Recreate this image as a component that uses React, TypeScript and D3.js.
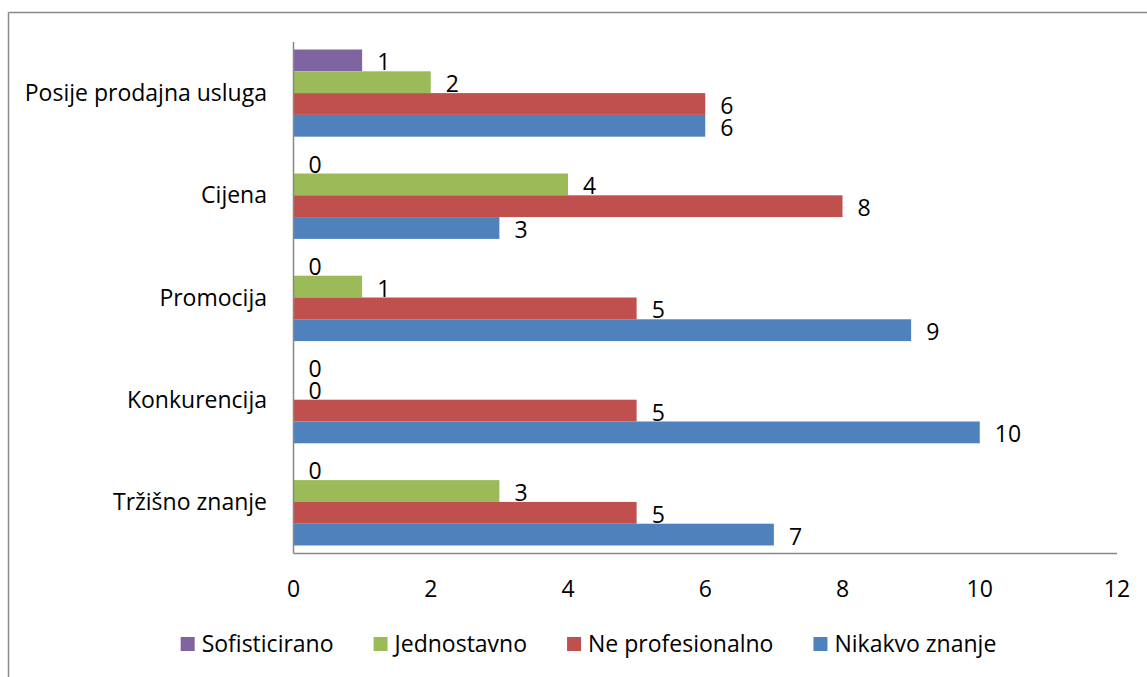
import React, { useEffect, useRef } from "react";
import * as d3 from "d3";

const categories = ["Posije prodajna usluga", "Cijena", "Promocija", "Konkurencija", "Tržišno znanje"];
const seriesNames = ["Sofisticirano", "Jednostavno", "Ne profesionalno", "Nikakvo znanje"];
const seriesColors = ["#8064A2", "#9BBB59", "#C0504D", "#4F81BD"];
const sofisticirano = [1, 0, 0, 0, 0];
const jednostavno = [2, 4, 1, 0, 3];
const neProfesionalno = [6, 8, 5, 5, 5];
const nikakvoZnanje = [6, 3, 9, 10, 7];
const xTicks = [0, 2, 4, 6, 8, 10, 12];

const W = 1147;
const H = 677;
const FONT = "'Open Sans', sans-serif";
const FS = 23;

export default function App() {
  const ref = useRef<SVGSVGElement | null>(null);

  useEffect(() => {
    const svg = d3.select(ref.current);
    svg.selectAll("*").remove();
    const seriesValues = [sofisticirano, jednostavno, neProfesionalno, nikakvoZnanje];

    const x = d3.scaleLinear().domain([0, 12]).range([293.5, 1117]);
    const y = d3
      .scaleBand<string>()
      .domain(categories)
      .range([42, 553])
      .paddingInner(0.147)
      .paddingOuter(0.0735);
    const ys = d3.scaleBand<string>().domain(seriesNames).range([0, y.bandwidth()]);

    // frame
    svg.append("line").attr("x1", 8.5).attr("x2", W).attr("y1", 12.5).attr("y2", 12.5)
      .attr("stroke", "#8a8a8a").attr("stroke-width", 1.5);
    svg.append("line").attr("x1", 8.5).attr("x2", 8.5).attr("y1", 12.5).attr("y2", H)
      .attr("stroke", "#8a8a8a").attr("stroke-width", 1.5);

    // bars
    const g = svg.append("g");
    categories.forEach((c, ci) => {
      seriesNames.forEach((s, si) => {
        const v = seriesValues[si][ci];
        const y0 = (y(c) as number) + (ys(s) as number);
        if (v > 0) {
          g.append("rect")
            .attr("x", x(0))
            .attr("y", y0)
            .attr("width", x(v) - x(0))
            .attr("height", ys.bandwidth())
            .attr("fill", seriesColors[si]);
        }
        g.append("text")
          .attr("x", x(v) + 15)
          .attr("y", y0 + ys.bandwidth() / 2 + 10)
          .attr("font-family", FONT)
          .attr("font-size", FS)
          .attr("fill", "#000")
          .text(String(v));
      });
    });

    // axes lines
    svg.append("line").attr("x1", x(0)).attr("x2", x(0)).attr("y1", 42).attr("y2", 553.5)
      .attr("stroke", "#878787").attr("stroke-width", 1.5);
    svg.append("line").attr("x1", x(0)).attr("x2", x(12)).attr("y1", 553.5).attr("y2", 553.5)
      .attr("stroke", "#878787").attr("stroke-width", 1.5);

    // x tick labels
    xTicks.forEach((t) => {
      svg.append("text")
        .attr("x", x(t))
        .attr("y", 597)
        .attr("text-anchor", "middle")
        .attr("font-family", FONT)
        .attr("font-size", FS)
        .text(String(t));
    });

    // category labels
    categories.forEach((c) => {
      svg.append("text")
        .attr("x", 267)
        .attr("y", (y(c) as number) + y.bandwidth() / 2 + 8)
        .attr("text-anchor", "end")
        .attr("font-family", FONT)
        .attr("font-size", FS)
        .text(c);
    });

    // legend
    const lg = svg.append("g");
    const items = seriesNames.map((s, i) => {
      const gi = lg.append("g");
      gi.append("rect").attr("x", 0).attr("y", 637).attr("width", 14).attr("height", 14)
        .attr("fill", seriesColors[i]);
      const t = gi.append("text").attr("x", 21).attr("y", 652)
        .attr("font-family", FONT).attr("font-size", FS).text(s);
      const w = (t.node() as SVGTextElement).getComputedTextLength();
      return { gi, w: 21 + w };
    });
    const gap = 40;
    const total = d3.sum(items, (d) => d.w) + gap * (items.length - 1);
    let cx = 588.5 - total / 2;
    items.forEach((it) => {
      it.gi.attr("transform", `translate(${cx},0)`);
      cx += it.w + gap;
    });
  }, []);

  return (
    <svg
      ref={ref}
      width={W}
      height={H}
      style={{ position: "absolute", left: 0, top: 0, background: "#fff" }}
    />
  );
}
